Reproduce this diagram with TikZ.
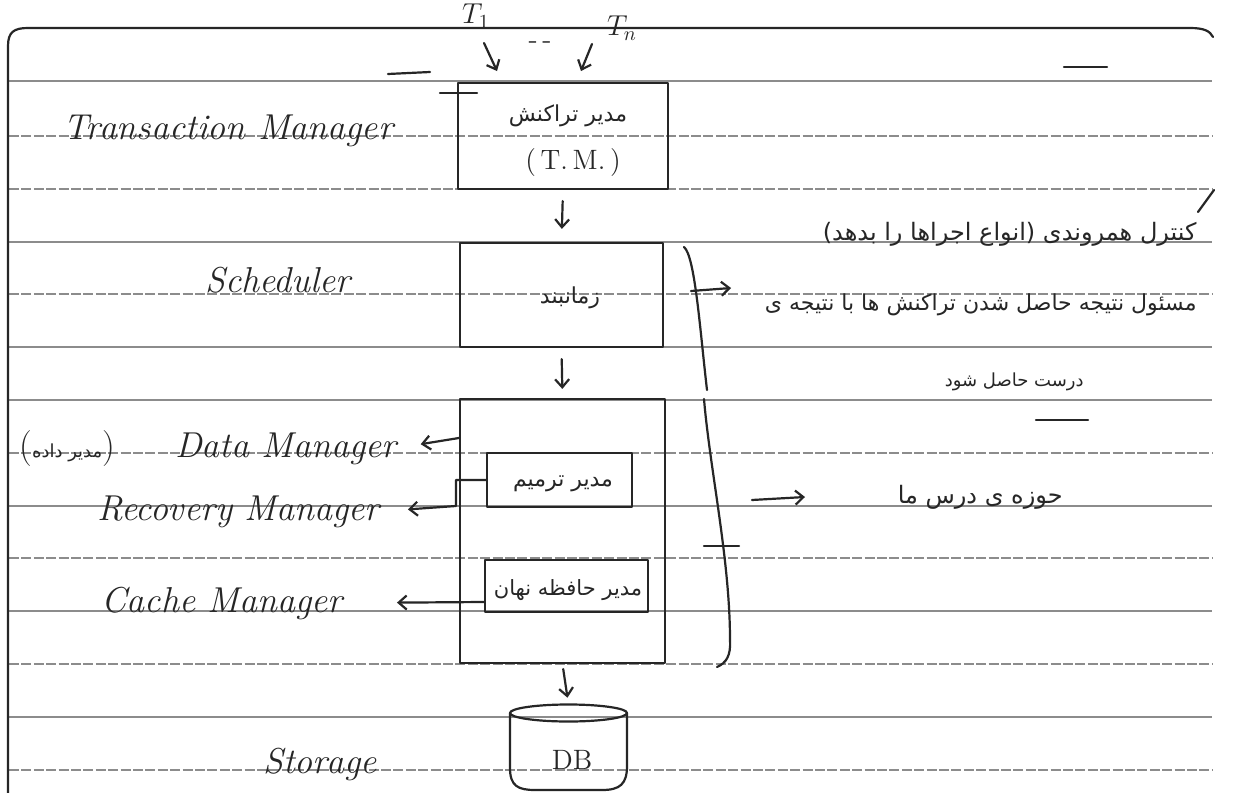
\documentclass[tikz,border=0pt]{standalone}
\usepackage{fontspec}
\TeXXeTstate=1
\newfontfamily\fafont[Script=Arabic]{DejaVu Sans}
\usetikzlibrary{arrows.meta,calc}
\definecolor{penc}{gray}{0.15}
\definecolor{rulecol}{gray}{0.55}
\begin{document}
\begin{tikzpicture}[x=0.5pt,y=-0.5pt,
  pen/.style={draw=penc, line width=1.1pt, line cap=round, line join=round},
  ruled/.style={draw=rulecol, line width=0.6pt},
  ruledash/.style={ruled, dash pattern=on 5pt off 1.2pt},
  boxstyle/.style={pen, rectangle, inner sep=0pt},
  en/.style={text=penc, font=\fontsize{18}{20}\selectfont\itshape, inner sep=0pt},
  fa/.style={text=penc, font=\fafont\fontsize{12}{14}\selectfont, inner sep=0pt},
  fabox/.style={text=penc, font=\fafont\fontsize{11}{13}\selectfont, inner sep=0pt},
  up/.style={text=penc, font=\fontsize{14}{16}\selectfont, inner sep=0pt},
  arr/.style={pen, -{Straight Barb[length=4pt,width=7pt]}},
]
\useasboundingbox[fill=white] (0,0) rectangle (1233,793);

% notebook ruling
\foreach \y in {81,242,347,400,506,611,717} \draw[ruled] (9,\y) -- (1212,\y);
\foreach \y in {136,189,294,453,558,664,770} \draw[ruledash] (9,\y) -- (1212,\y);

% frame
\draw[pen] (8,793) -- (8,46) .. controls (8,32) and (14,28) .. (28,28) -- (1190,28) .. controls (1204,28) and (1210,31) .. (1213,37);

% boxes
\node[boxstyle, minimum width=105pt, minimum height=53pt] (tm) at (563,136) {};
\node[boxstyle, minimum width=101.5pt, minimum height=52pt] (sch) at (561.5,295) {};
\node[boxstyle, minimum width=102.5pt, minimum height=132pt] (dm) at (562.5,531) {};
\node[boxstyle, minimum width=72.5pt, minimum height=27pt] (rec) at (559.5,480) {};
\node[boxstyle, minimum width=81.5pt, minimum height=26pt] (cache) at (566.5,586) {};
\node[minimum width=58.5pt, minimum height=42.5pt, inner sep=0pt] (db) at (568.5,747.5) {};

% DB cylinder outline
\draw[pen] (568.5,713) ellipse [x radius=29.25pt, y radius=4.25pt];
\draw[pen] (510,713) -- (510,768) .. controls (510,786) and (518,790) .. (535,790) -- (602,790) .. controls (620,790) and (627,784) .. (627,766) -- (627,713);

% box texts
\node[fabox] (tmfa) at (568,116) {\beginR مدیر تراکنش\endR};
\node[up] (tmab) at (573,163) {(\,T.\,M.\,)};
\node[fabox] (schfa) at (570,298) {\beginR زمانبند\endR};
\node[fabox] (recfa) at (563,484) {\beginR مدیر ترمیم\endR};
\node[fabox, font=\fafont\fontsize{10.5}{12}\selectfont] (cachefa) at (568,590) {\beginR مدیر حافظه نهان\endR};
\node[up] (dbtxt) at (572,760) {DB};

% transactions
\node[up] (t1) at (476,16) {$T_1$};
\node[up] (tn) at (622,28) {$T_n$};
\node[up] (dd) at (540,45) {-\,-};
\coordinate (t1a) at (484,43);
\coordinate (t1b) at (497,71);
\coordinate (tna) at (592,44);
\coordinate (tnb) at (581,71);
\draw[arr] (t1a) -- (t1b);
\draw[arr] (tna) -- (tnb);

% small marks
\draw[pen] (388,74) -- (430,72);
\draw[pen] (1064,67) -- (1107,67);
\draw[pen] (440,93) -- (477,93);
\draw[pen] (1036,420) -- (1088,420);
\draw[pen] (1198,212) -- (1214,190);

% flow arrows
\draw[arr, shorten <=5.5pt, shorten >=6.5pt] (tm.south) -- (sch.north);
\draw[arr, shorten <=5.5pt, shorten >=4.5pt] (sch.south) -- (dm.north);
\draw[arr, shorten <=2.5pt, shorten >=3.5pt] (dm.south) -- (db.north);

% left labels
\node[en, anchor=base west] (tmlbl) at (63,139) {Transaction Manager};
\node[en, anchor=base west] (schlbl) at (205,292) {Scheduler};
\node[en, anchor=base east] (dmlbl) at (397,457) {{\upshape(}{\fafont\upshape\fontsize{9}{11}\selectfont\beginR مدیر داده\endR}{\upshape)}\hspace{30pt}Data Manager};
\node[en, anchor=base east] (reclbl) at (380,520) {Recovery Manager};
\node[en, anchor=base east] (cachelbl) at (343,612) {Cache Manager};
\node[en, anchor=base west] (storlbl) at (263,773) {Storage};

% left connectors
\draw[arr, shorten >=12pt] (dm.west |- 0,438) -- (dmlbl.east);
\draw[arr, shorten >=14pt] (rec.west) -- ($(rec.west -| dm.west)+(-3,0)$) -- ++(0,26) -- (reclbl.east);
\draw[arr, shorten >=27pt] (cache.west |- 0,602) -- (cachelbl.east);

% right braces and notes
\draw[pen] (684,247) .. controls (695,256) and (700,330) .. (707,390);
\coordinate (b1a) at (691,291);
\coordinate (b1b) at (731,288);
\draw[arr] (b1a) -- (b1b);
\draw[pen] (704,399) .. controls (710,470) and (730,560) .. (730,640) .. controls (731,656) and (726,663) .. (717,667);
\draw[pen] (704,546) -- (739,546);
\coordinate (b2a) at (752,500);
\coordinate (b2b) at (805,497);
\draw[arr] (b2a) -- (b2b);

\node[fa, anchor=base east] (cc) at (1197,240) {\beginR کنترل همروندی (انواع اجراها را بدهد)\endR};
\node[fa, font=\fafont\fontsize{11}{13}\selectfont, anchor=base east] (resp) at (1197,310) {\beginR مسئول نتیجه حاصل شدن تراکنش ها با نتیجه ی\endR};
\node[fa, font=\fafont\fontsize{9}{11}\selectfont, anchor=base east] (resp2) at (1084,386) {\beginR درست حاصل شود\endR};
\node[fa, anchor=base east] (ours) at (1063,503) {\beginR حوزه ی درس ما\endR};
\end{tikzpicture}
\end{document}
